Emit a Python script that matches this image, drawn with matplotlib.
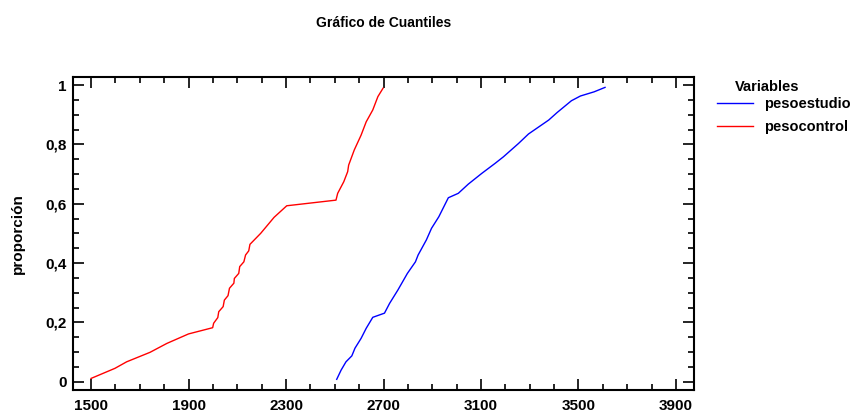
import matplotlib
matplotlib.use("Agg")
import matplotlib.pyplot as plt
from matplotlib.ticker import MultipleLocator, FuncFormatter

plt.rcParams['font.family'] = ['Liberation Sans', 'DejaVu Sans']

# pesocontrol (rojo)
control_x = [1500, 1598, 1646, 1742, 1811, 1900, 1999, 2003, 2020, 2024, 2042, 2047,
             2062, 2068, 2086, 2088, 2106, 2110, 2127, 2134, 2147, 2152, 2196, 2251,
             2303, 2505, 2512, 2537, 2553, 2557, 2580, 2608, 2629, 2656, 2677, 2698]
control_y = [0.011, 0.045, 0.067, 0.099, 0.129, 0.161, 0.182, 0.197, 0.216, 0.236,
             0.253, 0.275, 0.290, 0.315, 0.332, 0.348, 0.365, 0.388, 0.404, 0.427,
             0.441, 0.463, 0.500, 0.554, 0.593, 0.612, 0.635, 0.674, 0.708, 0.730,
             0.781, 0.831, 0.876, 0.916, 0.961, 0.989]

# pesoestudio (azul)
estudio_x = [2508, 2526, 2546, 2570, 2583, 2608, 2629, 2656, 2704, 2725, 2759, 2798,
             2831, 2842, 2876, 2897, 2927, 2966, 3007, 3048, 3103, 3158, 3192, 3254,
             3295, 3378, 3412, 3471, 3508, 3564, 3609]
estudio_y = [0.008, 0.039, 0.067, 0.087, 0.113, 0.146, 0.180, 0.217, 0.231, 0.264,
             0.309, 0.365, 0.404, 0.427, 0.478, 0.517, 0.556, 0.620, 0.635, 0.666,
             0.702, 0.736, 0.758, 0.803, 0.835, 0.882, 0.907, 0.947, 0.963, 0.977,
             0.992]

fig = plt.figure(figsize=(8.51, 4.12), dpi=100)
ax = fig.add_axes([0.0858, 0.0534, 0.7297, 0.7604])

ax.plot(estudio_x, estudio_y, color='#0000ff', lw=1.0, label='pesoestudio')
ax.plot(control_x, control_y, color='#ff0000', lw=1.0, label='pesocontrol')

ax.set_xlim(1426, 3974)
ax.set_ylim(-0.028, 1.028)
ax.xaxis.set_minor_locator(MultipleLocator(100))
ax.set_xticks(range(1500, 4000, 400))
ax.yaxis.set_major_locator(MultipleLocator(0.2))
ax.yaxis.set_minor_locator(MultipleLocator(0.05))
ax.yaxis.set_major_formatter(FuncFormatter(lambda v, p: ('%g' % round(v, 2)).replace('.', ',')))

ax.tick_params(which='both', direction='in', top=True, right=True, width=1.2,
               labelsize=11)
ax.tick_params(axis='x', pad=6.5)
ax.tick_params(axis='y', pad=4.5)
ax.tick_params(which='major', length=8)
ax.tick_params(which='minor', length=4)
for lab in ax.get_xticklabels() + ax.get_yticklabels():
    lab.set_fontweight('bold')
for s in ax.spines.values():
    s.set_linewidth(1.5)

ax.set_ylabel('proporción', fontsize=11, fontweight='bold', labelpad=15)
fig.text(0.4507, 0.943, 'Gráfico de Cuantiles', ha='center', va='center',
         fontsize=10, fontweight='bold')

fig.text(0.8637, 0.789, 'Variables', ha='left', va='center',
         fontsize=10.5, fontweight='bold')
leg = fig.legend(loc='upper left', bbox_to_anchor=(0.8425, 0.764), frameon=False,
                 fontsize=10.5, handlelength=2.45, handletextpad=0.8,
                 borderaxespad=0, borderpad=0, labelspacing=0.6)
for t in leg.get_texts():
    t.set_fontweight('bold')

fig.savefig('out.png', dpi=100)
